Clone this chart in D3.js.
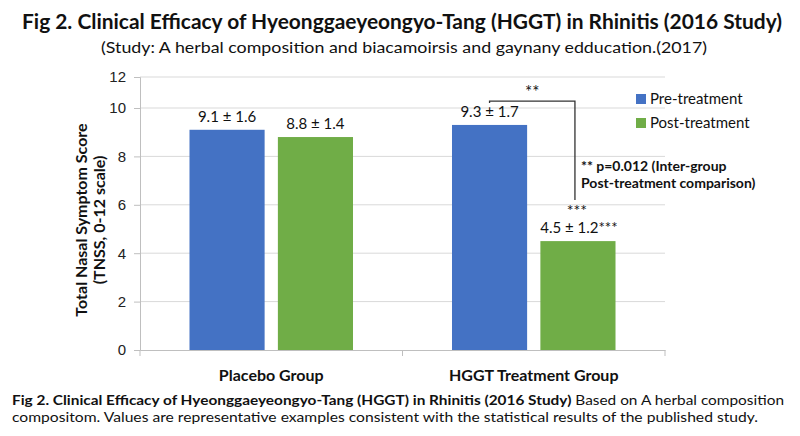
<!DOCTYPE html>
<html lang="en">
<head>
    <meta charset="UTF-8">
    <title>HGGT Rhinitis Efficacy</title>
    <script src="https://d3js.org/d3.v7.min.js"></script>
    <style>
        body {
            margin: 0;
            background: #ffffff;
            font-family: Lato, "Open Sans", sans-serif;
        }
        .tick text {
            font-size: 15px;
            fill: #222;
        }
        .bar-label {
            font-size: 15px;
            fill: #111;
            text-anchor: middle;
        }
    </style>
</head>
<body>
    <div id="chart"></div>
    <script>
        const groups = ["Placebo Group", "HGGT Treatment Group"];
        const series = ["Pre-treatment", "Post-treatment"];
        const preValues = [9.1, 9.3];
        const postValues = [8.8, 4.5];
        const barLabels = [["9.1 ± 1.6", "8.8 ± 1.4"], ["9.3 ± 1.7", "4.5 ± 1.2***"]];
        const yTicks = [0, 2, 4, 6, 8, 10, 12];
        const colors = ["#4472C4", "#70AD47"];

        const width = 800;
        const height = 436;

        const svg = d3.select("#chart")
            .append("svg")
            .attr("width", width)
            .attr("height", height);

        // the reference axis squeezes the 10-12 step, so use a piecewise scale
        const y = d3.scaleLinear()
            .domain([0, 10, 12])
            .range([350, 108, 77]);

        const x0 = d3.scaleBand()
            .domain(groups)
            .range([140, 665]);

        const x1 = d3.scaleBand()
            .domain(series)
            .range([0, x0.bandwidth()])
            .paddingInner(0.15)
            .paddingOuter(0.56);

        // titles
        svg.append("text")
            .attr("x", 402).attr("y", 29)
            .attr("text-anchor", "middle")
            .attr("textLength", 760).attr("lengthAdjust", "spacingAndGlyphs")
            .style("font-size", "21px").style("font-weight", "bold").style("fill", "#111")
            .text("Fig 2. Clinical Efficacy of Hyeonggaeyeongyo-Tang (HGGT) in Rhinitis (2016 Study)");

        svg.append("text")
            .attr("x", 404).attr("y", 53)
            .attr("text-anchor", "middle")
            .attr("textLength", 606).attr("lengthAdjust", "spacingAndGlyphs")
            .style("font-size", "16px").style("fill", "#111")
            .text("(Study: A herbal composition and biacamoirsis and gaynany edducation.(2017)");

        // gridlines
        svg.append("g")
            .selectAll("line")
            .data(yTicks.filter(d => d > 0))
            .join("line")
            .attr("x1", 140).attr("x2", 665)
            .attr("y1", d => y(d)).attr("y2", d => y(d))
            .attr("stroke", "#d9d9d9");

        // y axis
        const yAxis = svg.append("g")
            .attr("transform", "translate(140,0)")
            .call(d3.axisLeft(y).tickValues(yTicks).tickSize(6).tickPadding(8));
        yAxis.select(".domain").attr("stroke", "#bfbfbf");
        yAxis.selectAll(".tick line").attr("stroke", "#bfbfbf");

        // x axis
        const xAxis = svg.append("g")
            .attr("transform", "translate(0,350)")
            .call(d3.axisBottom(x0).tickSize(0).tickFormat(""));
        xAxis.select(".domain").attr("stroke", "#bfbfbf");
        xAxis.selectAll(".tick").remove();
        xAxis.selectAll(".sep")
            .data([140, x0(groups[1]), 665])
            .join("line")
            .attr("x1", d => d).attr("x2", d => d)
            .attr("y1", 0).attr("y2", 6)
            .attr("stroke", "#bfbfbf");

        svg.append("g")
            .selectAll("text")
            .data(groups)
            .join("text")
            .attr("x", d => x0(d) + x0.bandwidth() / 2)
            .attr("y", 381)
            .attr("text-anchor", "middle")
            .style("font-size", "16px").style("font-weight", "bold").style("fill", "#111")
            .text(d => d);

        // y axis title
        const yTitle = svg.append("text")
            .attr("transform", "translate(90,220) rotate(-90)")
            .attr("text-anchor", "middle")
            .style("font-size", "16px").style("font-weight", "bold").style("fill", "#111");
        yTitle.append("tspan").attr("x", 0).attr("y", -3).text("Total Nasal Symptom Score");
        yTitle.append("tspan").attr("x", 0).attr("y", 15).text("(TNSS, 0-12 scale)");

        // bars
        const barData = groups.flatMap((g, i) => [
            { group: g, key: series[0], value: preValues[i], label: barLabels[i][0], color: colors[0] },
            { group: g, key: series[1], value: postValues[i], label: barLabels[i][1], color: colors[1] }
        ]);

        svg.append("g")
            .selectAll("rect")
            .data(barData)
            .join("rect")
            .attr("x", d => x0(d.group) + x1(d.key))
            .attr("y", d => y(d.value))
            .attr("width", x1.bandwidth())
            .attr("height", d => y(0) - y(d.value))
            .attr("fill", d => d.color);

        svg.append("g")
            .selectAll("text")
            .data(barData)
            .join("text")
            .attr("class", "bar-label")
            .attr("x", d => x0(d.group) + x1(d.key) + x1.bandwidth() / 2 + (d.label.endsWith("***") ? 1 : 0))
            .attr("y", d => y(d.value) - 8)
            .text(d => d.label);

        // significance markers
        const hBlueX = x0(groups[1]) + x1(series[0]) + x1.bandwidth() / 2;
        const hGreenX = x0(groups[1]) + x1(series[1]) + x1.bandwidth() / 2 - 3;

        svg.append("text")
            .attr("class", "bar-label")
            .attr("x", hGreenX + 2)
            .attr("y", y(postValues[1]) - 25)
            .style("font-size", "16px")
            .text("***");

        svg.append("path")
            .attr("d", `M${hBlueX},${y(9.3) - 22}V${y(10.45)}H${hGreenX}V${y(6.2)}`)
            .attr("fill", "none")
            .attr("stroke", "#333")
            .attr("stroke-width", 1.3);

        svg.append("text")
            .attr("class", "bar-label")
            .attr("x", (hBlueX + hGreenX) / 2)
            .attr("y", y(10.45) - 3)
            .style("font-size", "17px")
            .text("**");

        const note = svg.append("text")
            .style("font-size", "14px").style("font-weight", "bold").style("fill", "#111");
        note.append("tspan").attr("x", 581).attr("y", 171).text("** p=0.012 (Inter-group");
        note.append("tspan").attr("x", 581).attr("y", 188).text("Post-treatment comparison)");

        // legend
        const legend = svg.append("g")
            .selectAll("g")
            .data(series)
            .join("g")
            .attr("transform", (d, i) => `translate(636,${99 + i * 24})`);
        legend.append("rect")
            .attr("x", 0).attr("y", -5)
            .attr("width", 10).attr("height", 10)
            .attr("fill", (d, i) => colors[i]);
        legend.append("text")
            .attr("x", 14).attr("y", 5)
            .style("font-size", "15px").style("fill", "#111")
            .text(d => d);

        // caption
        const cap1 = svg.append("text")
            .attr("x", 12).attr("y", 405)
            .attr("textLength", 772).attr("lengthAdjust", "spacingAndGlyphs")
            .style("font-size", "14px").style("fill", "#111");
        cap1.append("tspan").style("font-weight", "bold")
            .text("Fig 2. Clinical Efficacy of Hyeonggaeyeongyo-Tang (HGGT) in Rhinitis (2016 Study)");
        cap1.append("tspan").text(" Based on A herbal composition");

        svg.append("text")
            .attr("x", 12).attr("y", 422)
            .attr("textLength", 746).attr("lengthAdjust", "spacingAndGlyphs")
            .style("font-size", "14px").style("fill", "#111")
            .text("compositom. Values are representative examples consistent with the statistical results of the published study.");
    </script>
</body>
</html>
